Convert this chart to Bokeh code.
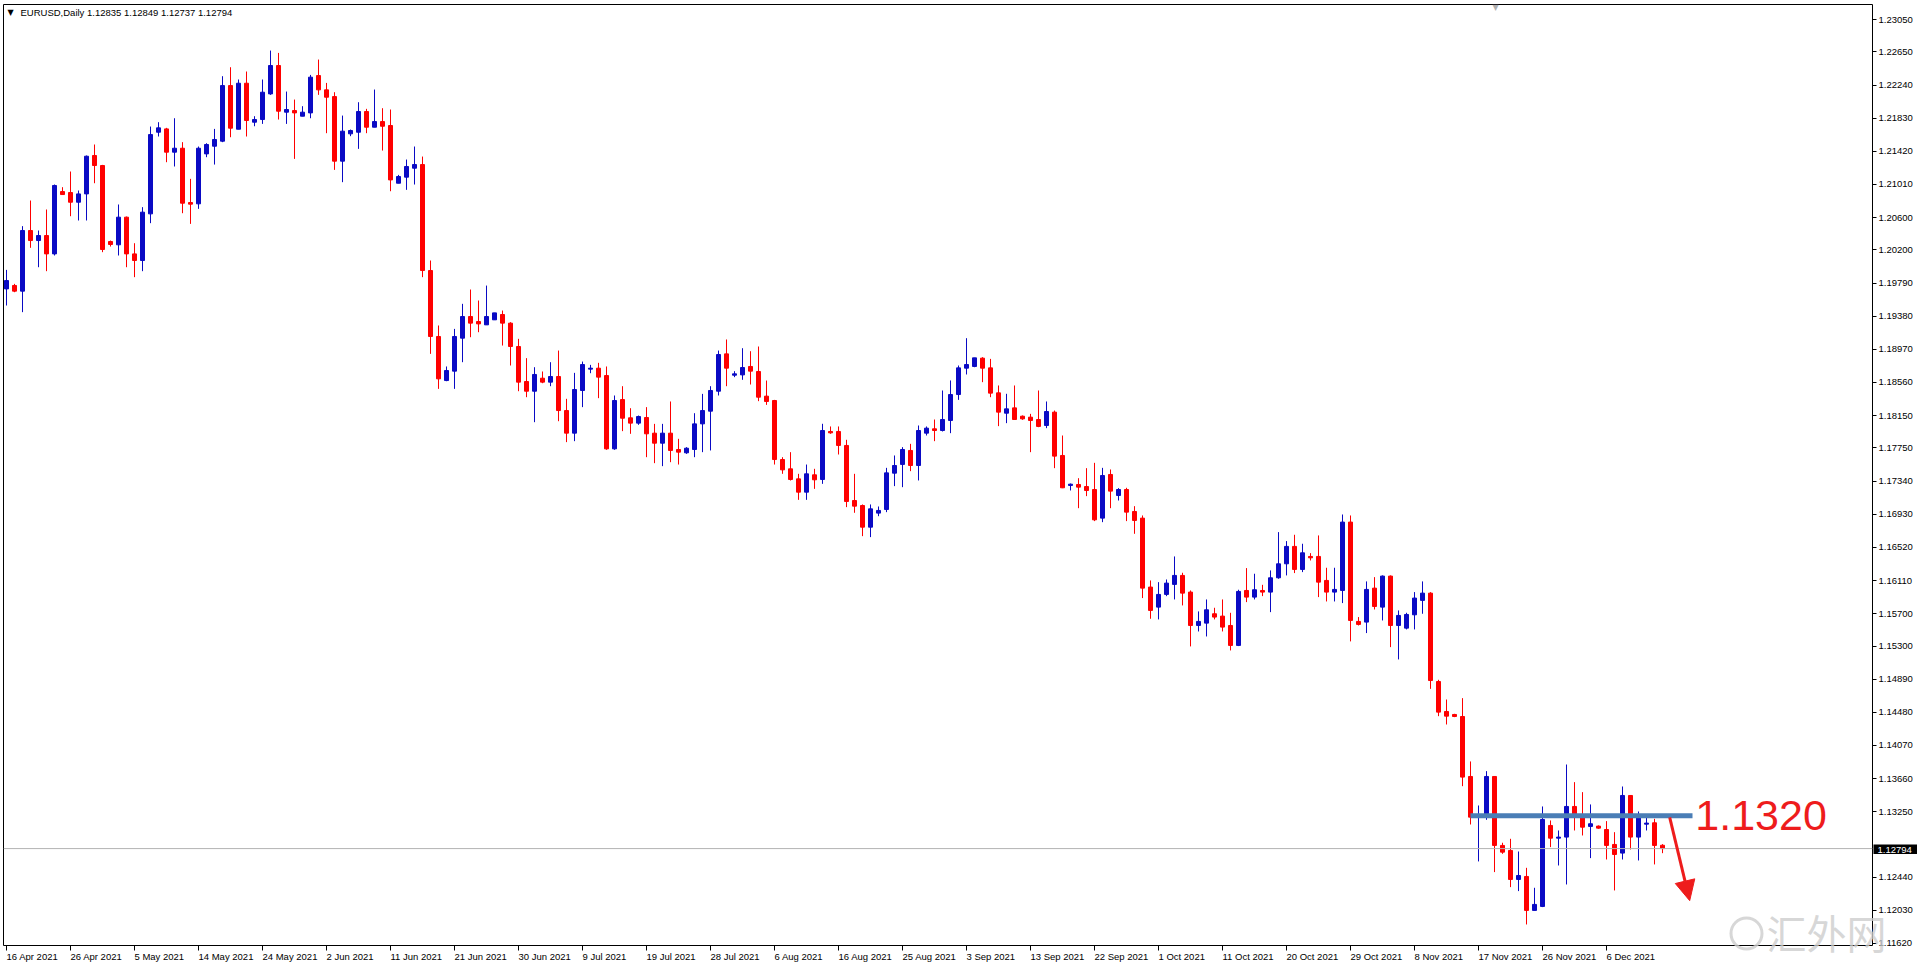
from bokeh.plotting import figure
from bokeh.models import (Range1d, LinearAxis, FixedTicker, PrintfTickFormatter,
                          Label, Arrow, NormalHead, Span, ColumnDataSource)
from bokeh.embed import file_html
from bokeh.resources import INLINE
from bokeh.core.properties import value

symbol = "EURUSD,Daily"
last_quote = ["1.12835", "1.12849", "1.12737", "1.12794"]
level = 1.1320
last_price = 1.12794
watermark = "\u6c47\u5916\u7f51"

opens = [
    1.19718, 1.19760, 1.19690, 1.20440, 1.20316, 1.20378, 1.20151, 1.20922, 1.20910, 1.20790,
    1.20893, 1.21368, 1.21244, 1.20304, 1.20263, 1.20605, 1.20151, 1.20069, 1.20646, 1.21656,
    1.21697, 1.21409, 1.21458, 1.20786, 1.20770, 1.21388, 1.21483, 1.21545, 1.22233, 1.21693,
    1.22262, 1.21780, 1.21813, 1.22130, 1.22481, 1.21904, 1.21924, 1.21854, 1.21895, 1.22357,
    1.22180, 1.22097, 1.21298, 1.21636, 1.21656, 1.21912, 1.21718, 1.21788, 1.21739, 1.21025,
    1.21100, 1.21211, 1.21256, 1.19945, 1.19129, 1.18584, 1.18700, 1.19108, 1.19376, 1.19314,
    1.19273, 1.19335, 1.19401, 1.19294, 1.19005, 1.18572, 1.18452, 1.18613, 1.18564, 1.18634,
    1.18213, 1.17933, 1.18461, 1.18725, 1.18737, 1.18646, 1.17739, 1.18349, 1.18123, 1.18057,
    1.18127, 1.17933, 1.17809, 1.17933, 1.17731, 1.17690, 1.17731, 1.18048, 1.18205, 1.18452,
    1.18914, 1.18650, 1.18654, 1.18758, 1.18696, 1.18391, 1.18337, 1.17607, 1.17492, 1.17368,
    1.17203, 1.17418, 1.17360, 1.17954, 1.17954, 1.17781, 1.17100, 1.17038, 1.16770, 1.16944,
    1.16989, 1.17438, 1.17546, 1.17719, 1.17533, 1.17933, 1.17987, 1.17966, 1.18090, 1.18411,
    1.18737, 1.18758, 1.18861, 1.18741, 1.18432, 1.18180, 1.18246, 1.18143, 1.18131, 1.18102,
    1.18028, 1.18193, 1.17657, 1.17286, 1.17298, 1.17273, 1.17236, 1.16882, 1.17422, 1.17162,
    1.17236, 1.16964, 1.16882, 1.16029, 1.15781, 1.15938, 1.16062, 1.16173, 1.15967, 1.15554,
    1.15583, 1.15699, 1.15670, 1.15554, 1.15307, 1.15987, 1.15905, 1.15987, 1.15967, 1.16144,
    1.16317, 1.16532, 1.16247, 1.16408, 1.16408, 1.16111, 1.15967, 1.15987, 1.16833, 1.15604,
    1.15596, 1.16016, 1.15781, 1.16165, 1.15554, 1.15521, 1.15686, 1.15864, 1.15954, 1.14861,
    1.14490, 1.14453, 1.14428, 1.13686, 1.13183, 1.13183, 1.13686, 1.12833, 1.12771, 1.12412,
    1.12449, 1.12029, 1.12078, 1.13080, 1.12923, 1.12936, 1.13315, 1.13204, 1.13068, 1.13072,
    1.13030, 1.12845, 1.12738, 1.13451, 1.12936, 1.13096, 1.13113, 1.12835,
]
highs = [
    1.19953, 1.19780, 1.20494, 1.20811, 1.20440, 1.20700, 1.21009, 1.20976, 1.21170, 1.20935,
    1.21368, 1.21504, 1.21252, 1.20316, 1.20762, 1.20613, 1.20283, 1.20729, 1.21726, 1.21780,
    1.21710, 1.21829, 1.21533, 1.21079, 1.21479, 1.21520, 1.21697, 1.22349, 1.22460, 1.22308,
    1.22407, 1.21854, 1.22308, 1.22666, 1.22637, 1.22159, 1.22060, 1.21978, 1.22365, 1.22555,
    1.22266, 1.22151, 1.21862, 1.21689, 1.22027, 1.21945, 1.22184, 1.21953, 1.21937, 1.21128,
    1.21318, 1.21479, 1.21355, 1.20069, 1.19265, 1.18758, 1.19223, 1.19533, 1.19710, 1.19574,
    1.19759, 1.19421, 1.19450, 1.19306, 1.19100, 1.18861, 1.18749, 1.18696, 1.18811, 1.18955,
    1.18358, 1.18679, 1.18819, 1.18778, 1.18803, 1.18758, 1.18399, 1.18514, 1.18242, 1.18151,
    1.18255, 1.18048, 1.18048, 1.18325, 1.17863, 1.17760, 1.18180, 1.18419, 1.18514, 1.18955,
    1.19092, 1.18700, 1.18984, 1.18947, 1.19005, 1.18584, 1.18345, 1.17636, 1.17698, 1.17430,
    1.17545, 1.17492, 1.18049, 1.18016, 1.18016, 1.17851, 1.17430, 1.17051, 1.17051, 1.17026,
    1.17504, 1.17657, 1.17760, 1.17801, 1.18028, 1.18016, 1.18102, 1.18461, 1.18585, 1.18770,
    1.19108, 1.18865, 1.18873, 1.18852, 1.18523, 1.18420, 1.18523, 1.18152, 1.18172, 1.18461,
    1.18325, 1.18213, 1.17904, 1.17310, 1.17376, 1.17500, 1.17566, 1.17504, 1.17484, 1.17253,
    1.17257, 1.17030, 1.16915, 1.16111, 1.16090, 1.16123, 1.16408, 1.16206, 1.15987, 1.15728,
    1.15876, 1.15773, 1.15876, 1.15711, 1.15996, 1.16264, 1.16194, 1.16057, 1.16235, 1.16709,
    1.16598, 1.16676, 1.16565, 1.16449, 1.16668, 1.16268, 1.16268, 1.16927, 1.16915, 1.15658,
    1.16099, 1.16152, 1.16173, 1.16173, 1.15740, 1.15711, 1.15967, 1.16099, 1.15966, 1.14882,
    1.14638, 1.14461, 1.14655, 1.13872, 1.13327, 1.13752, 1.13690, 1.12866, 1.12915, 1.12758,
    1.12556, 1.12309, 1.13315, 1.13142, 1.13018, 1.13834, 1.13616, 1.13492, 1.13340, 1.13080,
    1.13134, 1.12997, 1.13562, 1.13455, 1.13253, 1.13204, 1.13162, 1.12849,
]
lows = [
    1.19512, 1.19677, 1.19430, 1.20226, 1.19986, 1.19937, 1.20131, 1.20885, 1.20617, 1.20564,
    1.20564, 1.21025, 1.20172, 1.20242, 1.20131, 1.19986, 1.19863, 1.19937, 1.20531, 1.21603,
    1.21285, 1.21232, 1.20654, 1.20522, 1.20708, 1.21347, 1.21256, 1.21533, 1.21594, 1.21693,
    1.21603, 1.21730, 1.21759, 1.22118, 1.21813, 1.21759, 1.21326, 1.21854, 1.21829, 1.22118,
    1.21644, 1.21190, 1.21038, 1.21607, 1.21450, 1.21644, 1.21718, 1.21429, 1.20926, 1.21025,
    1.20943, 1.21009, 1.19863, 1.18914, 1.18481, 1.18576, 1.18481, 1.18811, 1.19120, 1.19182,
    1.19273, 1.19335, 1.19017, 1.18770, 1.18452, 1.18378, 1.18069, 1.18551, 1.18514, 1.18081,
    1.17822, 1.17834, 1.18255, 1.18675, 1.18366, 1.17727, 1.17727, 1.17958, 1.17925, 1.18036,
    1.17636, 1.17562, 1.17525, 1.17574, 1.17545, 1.17677, 1.17636, 1.17698, 1.17719, 1.18399,
    1.18514, 1.18626, 1.18593, 1.18535, 1.18329, 1.18283, 1.17545, 1.17430, 1.17347, 1.17108,
    1.17108, 1.17244, 1.17306, 1.17925, 1.17669, 1.17018, 1.16948, 1.16659, 1.16647, 1.16906,
    1.16956, 1.17278, 1.17265, 1.17463, 1.17348, 1.17904, 1.17834, 1.17954, 1.17933, 1.18345,
    1.18659, 1.18749, 1.18564, 1.18378, 1.18020, 1.18057, 1.18098, 1.18098, 1.17698, 1.18007,
    1.17995, 1.17500, 1.17253, 1.17224, 1.17005, 1.17154, 1.16845, 1.16832, 1.17005, 1.17100,
    1.16845, 1.16688, 1.15893, 1.15637, 1.15629, 1.15917, 1.15876, 1.15802, 1.15295, 1.15480,
    1.15418, 1.15629, 1.15480, 1.15245, 1.15299, 1.15843, 1.15876, 1.15917, 1.15719, 1.16132,
    1.16173, 1.16202, 1.16214, 1.16358, 1.15905, 1.15851, 1.15851, 1.15831, 1.15357, 1.15554,
    1.15460, 1.15752, 1.15616, 1.15286, 1.15134, 1.15505, 1.15505, 1.15699, 1.14770, 1.14432,
    1.14329, 1.14420, 1.13566, 1.13092, 1.12635, 1.13150, 1.12503, 1.12729, 1.12317, 1.12268,
    1.11855, 1.12029, 1.12070, 1.12812, 1.12585, 1.12350, 1.13018, 1.12956, 1.12676, 1.13039,
    1.12659, 1.12276, 1.12659, 1.12783, 1.12647, 1.13018, 1.12598, 1.12737,
]
closes = [
    1.19821, 1.19690, 1.20440, 1.20316, 1.20378, 1.20151, 1.20997, 1.20885, 1.20790, 1.20893,
    1.21359, 1.21244, 1.20205, 1.20267, 1.20605, 1.20151, 1.20069, 1.20667, 1.21627, 1.21710,
    1.21409, 1.21458, 1.20778, 1.20766, 1.21458, 1.21504, 1.21566, 1.22233, 1.21706, 1.22262,
    1.21801, 1.21813, 1.22151, 1.22481, 1.21916, 1.21937, 1.21895, 1.21904, 1.22337, 1.22180,
    1.22089, 1.21298, 1.21669, 1.21677, 1.21912, 1.21718, 1.21788, 1.21730, 1.21066, 1.21108,
    1.21232, 1.21256, 1.19945, 1.19129, 1.18605, 1.18708, 1.19129, 1.19376, 1.19294, 1.19285,
    1.19376, 1.19421, 1.19294, 1.19005, 1.18564, 1.18452, 1.18659, 1.18564, 1.18634, 1.18213,
    1.17933, 1.18473, 1.18782, 1.18737, 1.18626, 1.17739, 1.18337, 1.18118, 1.18057, 1.18139,
    1.17925, 1.17809, 1.17933, 1.17719, 1.17698, 1.17747, 1.18048, 1.18213, 1.18461, 1.18906,
    1.18737, 1.18667, 1.18745, 1.18700, 1.18378, 1.18325, 1.17607, 1.17479, 1.17360, 1.17203,
    1.17430, 1.17356, 1.17966, 1.17937, 1.17781, 1.17088, 1.17030, 1.16770, 1.16997, 1.16977,
    1.17442, 1.17533, 1.17731, 1.17533, 1.17966, 1.17995, 1.17966, 1.18102, 1.18411, 1.18741,
    1.18782, 1.18865, 1.18737, 1.18428, 1.18193, 1.18234, 1.18102, 1.18110, 1.18090, 1.18016,
    1.18201, 1.17649, 1.17257, 1.17302, 1.17265, 1.17224, 1.16861, 1.17409, 1.17216, 1.17236,
    1.16956, 1.16853, 1.16016, 1.15740, 1.15938, 1.16078, 1.16173, 1.15954, 1.15554, 1.15604,
    1.15748, 1.15658, 1.15534, 1.15307, 1.15975, 1.15905, 1.15996, 1.15967, 1.16144, 1.16317,
    1.16532, 1.16247, 1.16453, 1.16391, 1.16090, 1.15967, 1.16000, 1.16833, 1.15616, 1.15567,
    1.16000, 1.15789, 1.16165, 1.15554, 1.15678, 1.15690, 1.15893, 1.15954, 1.14873, 1.14482,
    1.14432, 1.14428, 1.13678, 1.13183, 1.13195, 1.13686, 1.12833, 1.12750, 1.12412, 1.12461,
    1.12029, 1.12103, 1.13154, 1.12923, 1.12936, 1.13315, 1.13191, 1.13059, 1.13101, 1.13047,
    1.12833, 1.12721, 1.13451, 1.12936, 1.13183, 1.13109, 1.12833, 1.12794,
]

date_labels = [
    "16 Apr 2021", "26 Apr 2021", "5 May 2021", "14 May 2021", "24 May 2021", "2 Jun 2021",
    "11 Jun 2021", "21 Jun 2021", "30 Jun 2021", "9 Jul 2021", "19 Jul 2021", "28 Jul 2021",
    "6 Aug 2021", "16 Aug 2021", "25 Aug 2021", "3 Sep 2021", "13 Sep 2021", "22 Sep 2021",
    "1 Oct 2021", "11 Oct 2021", "20 Oct 2021", "29 Oct 2021", "8 Nov 2021", "17 Nov 2021",
    "26 Nov 2021", "6 Dec 2021",
]
bars_per_label = 8
price_ticks = [
    1.23050, 1.22650, 1.22240, 1.21830, 1.21420, 1.21010, 1.20600, 1.20200, 1.19790, 1.19380,
    1.18970, 1.18560, 1.18150, 1.17750, 1.17340, 1.16930, 1.16520, 1.16110, 1.15700, 1.15300,
    1.14890, 1.14480, 1.14070, 1.13660, 1.13250, 1.12440, 1.12030, 1.11620,
]

BLUE = "#0a0ac4"
RED = "#ff0000"
UI_FONT = "Liberation Sans"

n = len(opens)
xs = list(range(n))
colors = [BLUE if c >= o else RED for o, c in zip(opens, closes)]
src = ColumnDataSource(dict(
    x=xs, high=highs, low=lows,
    top=[max(o, c) for o, c in zip(opens, closes)],
    bottom=[min(o, c) for o, c in zip(opens, closes)],
    color=colors,
))

FL, FT, FW, FH = 3, 4, 1869, 941
Y0, Y1 = 1.11595, 1.23236
p = figure(frame_width=FW, frame_height=FH, output_backend="svg", toolbar_location=None,
           x_range=Range1d(-0.375, 233.25), y_range=Range1d(Y0, Y1),
           x_axis_location=None, y_axis_location=None,
           min_border_left=FL, min_border_top=FT, min_border_right=0, min_border_bottom=0,
           background_fill_color="white", border_fill_color="white",
           outline_line_color="black", outline_line_width=1,
           styles={"position": "absolute", "left": "0px", "top": "0px"})
p.xgrid.visible = False
p.ygrid.visible = False

yax = LinearAxis(ticker=FixedTicker(ticks=price_ticks, minor_ticks=[]),
                 formatter=PrintfTickFormatter(format="%.5f"),
                 axis_line_color=None, major_tick_in=0, major_tick_out=4,
                 major_tick_line_color="black", minor_tick_line_color=None,
                 major_label_standoff=2, major_label_text_font=UI_FONT,
                 major_label_text_font_size="9.5px", major_label_text_color="black")
p.add_layout(yax, "right")

date_ticks = [i * bars_per_label for i in range(len(date_labels))]
xax = LinearAxis(ticker=FixedTicker(ticks=date_ticks, minor_ticks=[]),
                 major_label_overrides={t: lab for t, lab in zip(date_ticks, date_labels)},
                 axis_line_color=None, major_tick_in=0, major_tick_out=5,
                 major_tick_line_color="black", minor_tick_line_color=None,
                 major_label_standoff=6, major_label_text_font=UI_FONT,
                 major_label_text_font_size="9.5px", major_label_text_color="black",
                 major_label_orientation=-1e-4)
p.add_layout(xax, "below")

# last price line
p.add_layout(Span(location=last_price, dimension="width", line_color="#b4b4b4", line_width=1))

# candles
p.segment(x0="x", y0="high", x1="x", y1="low", source=src, line_color="color", line_width=1)
p.vbar(x="x", width=0.5, top="top", bottom="bottom", source=src,
       fill_color="color", line_color="color", line_width=1)

# support / resistance level
p.segment(x0=[n - 25], y0=[level], x1=[n + 2.75], y1=[level],
          line_color="#4a7eb6", line_width=5)
p.add_layout(Label(x=n + 3.1, y=level, text=f"{level:.4f}", text_font=UI_FONT,
                   text_font_size="43px", text_color="#ee1c1c",
                   text_baseline="middle", text_align="left"))
p.add_layout(Arrow(x_start=n - 0.1, y_start=level - 0.0002, x_end=n + 2.4, y_end=1.1215,
                   line_color="#ee1c1c", line_width=3,
                   end=NormalHead(size=20, fill_color="#ee1c1c", line_color="#ee1c1c")))

# header
p.add_layout(Label(x=4, y=FH - 8, x_units="screen", y_units="screen", text="\u25bc",
                   text_font="DejaVu Sans", text_font_size="8px", text_color="black",
                   text_baseline="middle"))
p.add_layout(Label(x=17, y=FH - 8, x_units="screen", y_units="screen",
                   text=symbol + "  " + " ".join(last_quote),
                   text_font=UI_FONT, text_font_size="9.5px", text_color="black",
                   text_baseline="middle"))
# shift marker
p.add_layout(Label(x=1489, y=FH - 3, x_units="screen", y_units="screen", text="\u25bc",
                   text_font="DejaVu Sans", text_font_size="8px", text_color="#b0b0b0",
                   text_baseline="middle"))

# current price tag on the price axis (small overlay figure)
TAG_H = 11
tag_center = FT + (Y1 - last_price) / (Y1 - Y0) * FH
tag = figure(width=44, height=TAG_H, output_backend="svg", toolbar_location=None,
             x_range=Range1d(0, 44), y_range=Range1d(0, TAG_H),
             x_axis_location=None, y_axis_location=None, min_border=0,
             background_fill_color="black", border_fill_color="black", outline_line_color=None,
             styles={"position": "absolute", "left": f"{FL + FW + 1}px",
                     "top": f"{round(tag_center - TAG_H / 2)}px"})
tag.xgrid.visible = False
tag.ygrid.visible = False
tag.text(x=[4], y=[TAG_H / 2], text=[last_quote[3]], text_color="white",
         text_font=value(UI_FONT), text_font_size="9.5px", text_baseline="middle")

# watermark overlay
wm = figure(width=180, height=66, output_backend="svg", toolbar_location=None,
            x_range=Range1d(0, 180), y_range=Range1d(0, 66),
            x_axis_location=None, y_axis_location=None, min_border=0,
            background_fill_alpha=0, border_fill_alpha=0, outline_line_color=None,
            styles={"position": "absolute", "left": "1725px", "top": "898px"})
wm.xgrid.visible = False
wm.ygrid.visible = False
wm.scatter(x=[21], y=[31], size=31, marker="circle", fill_alpha=0,
           line_color="#cdcdcd", line_width=3, line_alpha=0.8)
wm.text(x=[41], y=[33], text=[watermark], text_color="#cdcdcd", text_alpha=0.8,
        text_font=value("Noto Sans CJK SC"), text_font_size="40px", text_baseline="middle")

open("out.html", "w").write(file_html([p, tag, wm], INLINE))
